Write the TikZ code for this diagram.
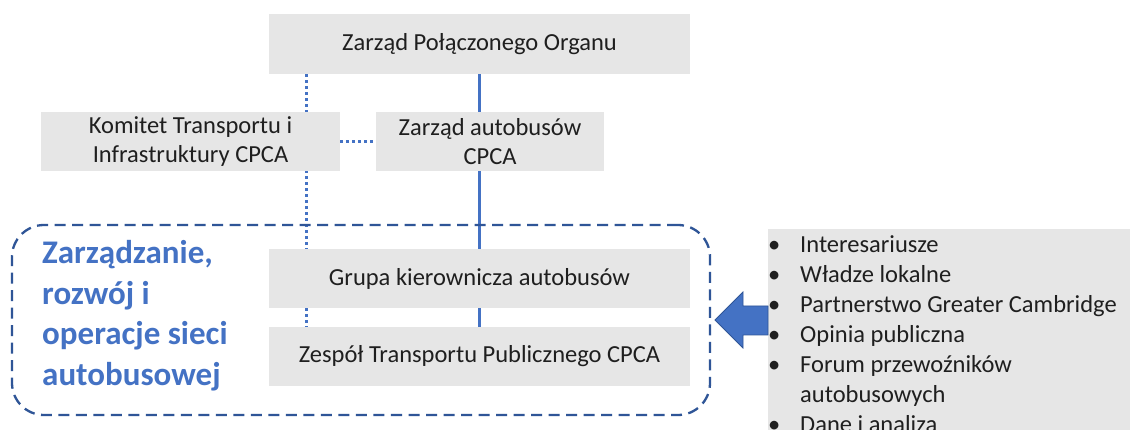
\documentclass[tikz,border=0pt]{standalone}
\usepackage{fontspec}
\setmainfont{Carlito}
\usetikzlibrary{backgrounds,positioning}
\definecolor{boxgray}{HTML}{E6E6E6}
\definecolor{lineblue}{HTML}{4472C4}
\definecolor{frameblue}{HTML}{2F5597}
\definecolor{txt}{HTML}{1F1F1F}
\begin{document}
\begin{tikzpicture}[x=1pt,y=-1pt,
  graybox/.style={fill=boxgray,draw=none,inner sep=0pt,text=txt,align=center,
    font=\fontsize{24.5}{29}\selectfont},
  solidline/.style={draw=lineblue,line width=2.8pt},
  dotline/.style={draw=lineblue,line width=3.2pt,dash pattern=on 3pt off 3pt},
  frame/.style={draw=frameblue,line width=2.3pt,dash pattern=on 11pt off 6.5pt,rounded corners=32pt,inner sep=0pt}
]
\useasboundingbox (0,0) rectangle (1130,430);

\node[graybox,minimum width=421pt,minimum height=60pt] (top) at (479.5,44) {Zarząd Połączonego Organu};
\node[graybox,minimum width=299pt,minimum height=59pt] (kom) at (190.5,141.5) {Komitet Transportu i\\Infrastruktury CPCA};
\node[graybox,minimum width=228pt,minimum height=59pt] (zab) at (490,141.5) {Zarząd autobusów\\CPCA};
\node[graybox,minimum width=421pt,minimum height=59pt] (grupa) at (479.5,278.5) {Grupa kierownicza autobusów};
\node[graybox,minimum width=421pt,minimum height=59pt] (zesp) at (479.5,356.5) {Zespół Transportu Publicznego CPCA};

\begin{pgfonlayer}{background}
  \fill[white] (0,0) rectangle (1130,430);
  \draw[solidline] (top.south) -- ([yshift=2pt]zesp.south);
  \draw[dotline] ([xshift=38pt]top.south west) -- ([xshift=38pt]zesp.north west);
  \draw[dotline] (kom.east) -- (zab.west);
\end{pgfonlayer}

\node[frame,minimum width=698pt,minimum height=190pt] (frm) at (361,320) {};
\node[anchor=north west,inner sep=0pt,align=left,text=lineblue,
  font=\fontsize{33}{40.7}\selectfont\bfseries] (title) at (42,240)
  {Zarządzanie,\\rozwój i\\operacje sieci\\autobusowej};

\node[fill=boxgray,draw=none,inner sep=0pt,minimum width=370pt,minimum height=215pt,anchor=north west] (stake) at (768,229) {};
\node[anchor=north west,inner sep=0pt,text=txt,font=\fontsize{24.5}{30}\selectfont] (list) at (768,231)
{\begin{tabular}{@{}p{32pt}@{}l@{}}
\textbullet & Interesariusze\\
\textbullet & Władze lokalne\\
\textbullet & Partnerstwo Greater Cambridge\\
\textbullet & Opinia publiczna\\
\textbullet & Forum przewoźników\\
 & autobusowych\\
\textbullet & Dane i analiza
\end{tabular}};

\draw[fill=lineblue,draw=frameblue,line width=0.8pt]
  (stake.west |- 0,306) -- (743,306) -- (743,292) -- (715,320) -- (743,348) -- (743,335) -- (stake.west |- 0,335) -- cycle;
\end{tikzpicture}
\end{document}
